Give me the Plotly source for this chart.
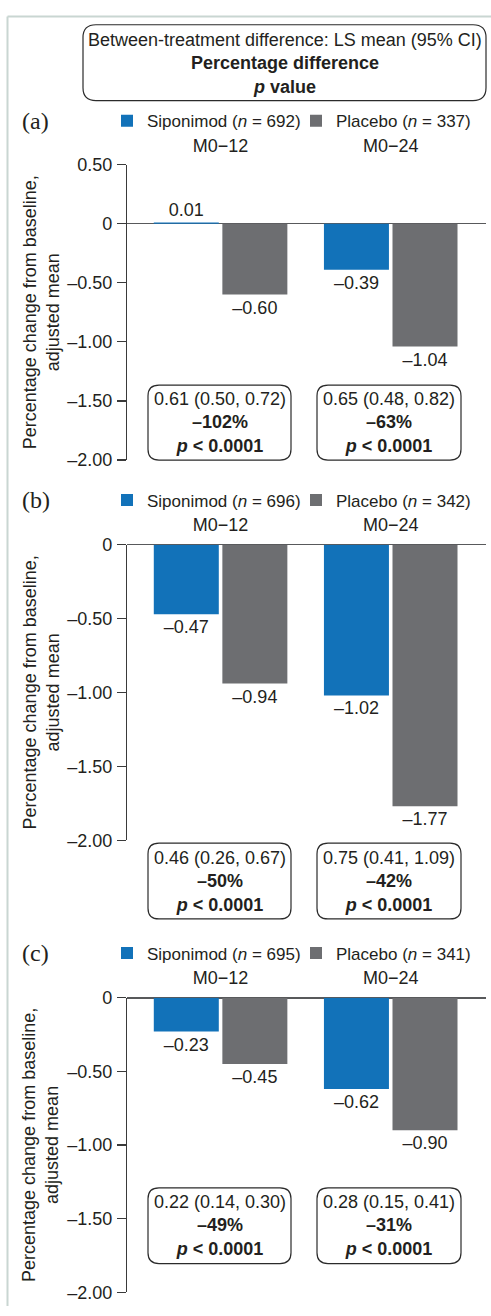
import plotly.graph_objects as go

# ---------------- data ----------------
categories = ["M0\u221212", "M0\u221224"]
siponimod_a = [0.01, -0.39]
placebo_a = [-0.60, -1.04]
siponimod_b = [-0.47, -1.02]
placebo_b = [-0.94, -1.77]
siponimod_c = [-0.23, -0.62]
placebo_c = [-0.45, -0.90]
n_siponimod = [692, 696, 695]
n_placebo = [337, 342, 341]
ls_mean_ci = [["0.61 (0.50, 0.72)", "0.65 (0.48, 0.82)"],
              ["0.46 (0.26, 0.67)", "0.75 (0.41, 1.09)"],
              ["0.22 (0.14, 0.30)", "0.28 (0.15, 0.41)"]]
pct_diff = [["\u2013102%", "\u201363%"],
            ["\u201350%", "\u201342%"],
            ["\u201349%", "\u201331%"]]
p_values = [["&lt; 0.0001", "&lt; 0.0001"]] * 3
panel_labels = ["(a)", "(b)", "(c)"]
y_ticks_a = [0.5, 0, -0.5, -1.0, -1.5, -2.0]
y_ticks_bc = [0, -0.5, -1.0, -1.5, -2.0]

# ---------------- style ----------------
W, H = 491, 1316
BLUE = "#1272b9"
GREY = "#6d6e71"
TXT = "#231f20"
FONT = "Liberation Sans, Arial, Helvetica, sans-serif"
FS = 18
LEG_FS = 17


def px(x):
    return x / W


def py(y):
    return 1 - y / H


def fmt(v):
    if v >= 0:
        return "%.2f" % v if v != 0 else "0"
    return "\u2013%.2f" % abs(v)


panels = [
    dict(sip=siponimod_a, pla=placebo_a, top=157, bot=457, leg=113,
         rng=[-2.0, 0.5], ticks=y_ticks_a, box=(381, 457), stand=8),
    dict(sip=siponimod_b, pla=placebo_b, top=543, bot=843, leg=498,
         rng=[-2.0, 0.0], ticks=y_ticks_bc, box=(846, 923), stand=9),
    dict(sip=siponimod_c, pla=placebo_c, top=1003, bot=1302, leg=958,
         rng=[-2.0, 0.0], ticks=y_ticks_bc, box=(1196, 1273), stand=9),
]

fig = go.Figure()
shapes = []
annotations = []
layout_extra = {}


def rounded_rect(x0, y0, x1, y1, r):
    rx, ry = r / W, r / H
    X0, X1 = px(x0), px(x1)
    Y0, Y1 = py(y0), py(y1)
    return (f"M {X0+rx},{Y0} L {X1-rx},{Y0} Q {X1},{Y0} {X1},{Y0-ry} "
            f"L {X1},{Y1+ry} Q {X1},{Y1} {X1-rx},{Y1} "
            f"L {X0+rx},{Y1} Q {X0},{Y1} {X0},{Y1+ry} "
            f"L {X0},{Y0-ry} Q {X0},{Y0} {X0+rx},{Y0} Z")


def legend_box(xpix, ypix):
    return dict(x=px(xpix), xanchor="left", y=py(ypix), yanchor="middle",
                orientation="h", font=dict(size=LEG_FS, color=TXT, family=FONT),
                bgcolor="rgba(0,0,0,0)", itemwidth=30, borderwidth=0,
                itemclick=False, itemdoubleclick=False)


for i, p in enumerate(panels):
    k = "" if i == 0 else str(i + 1)
    xa, ya = "x" + k, "y" + k
    leg_s = "legend" + ("" if i == 0 else str(2 * i + 1))
    leg_p = "legend" + str(2 * i + 2)
    fig.add_trace(go.Bar(
        x=categories, y=p["sip"], name=f"Siponimod (<i>n</i> = {n_siponimod[i]})",
        marker=dict(color=BLUE, line=dict(width=0)),
        text=[fmt(v) for v in p["sip"]], textposition="outside",
        textfont=dict(size=FS, color=TXT, family=FONT), cliponaxis=False,
        constraintext="none", xaxis=xa, yaxis=ya, legend=leg_s, hoverinfo="skip"))
    fig.add_trace(go.Bar(
        x=categories, y=p["pla"], name=f"Placebo (<i>n</i> = {n_placebo[i]})",
        marker=dict(color=GREY, line=dict(width=0)),
        text=[fmt(v) for v in p["pla"]], textposition="outside",
        textfont=dict(size=FS, color=TXT, family=FONT), cliponaxis=False,
        constraintext="none", xaxis=xa, yaxis=ya, legend=leg_p, hoverinfo="skip"))

    layout_extra["xaxis" + k] = dict(
        domain=[px(127), px(486)], anchor=ya, type="category",
        categoryorder="array", categoryarray=categories,
        range=[-0.55, 1.56], side="top", showline=False, ticks="",
        ticklabelstandoff=p["stand"],
        showgrid=False, zeroline=False, fixedrange=True,
        tickfont=dict(size=FS, color=TXT, family=FONT))
    layout_extra["yaxis" + k] = dict(
        domain=[py(p["bot"]), py(p["top"])], anchor=xa, range=p["rng"],
        showline=True, linecolor="#3a3a3a", linewidth=1.2,
        ticks="outside", ticklen=9, tickcolor="#3a3a3a", tickwidth=1.2,
        tickvals=p["ticks"], ticktext=[fmt(v) for v in p["ticks"]],
        ticklabelstandoff=1,
        showgrid=False, zeroline=True, zerolinecolor="#58595b", zerolinewidth=1.5,
        tickfont=dict(size=FS, color=TXT, family=FONT), fixedrange=True)
    layout_extra[leg_s] = legend_box(107, p["leg"])
    layout_extra[leg_p] = legend_box(296, p["leg"])

    annotations.append(dict(
        text=panel_labels[i], xref="paper", yref="paper", x=px(20), y=py(p["leg"]),
        xanchor="left", yanchor="middle", showarrow=False,
        font=dict(size=24, color=TXT, family="Liberation Serif, Times New Roman, serif")))
    annotations.append(dict(
        text="Percentage change from baseline,<br>adjusted mean", xref="paper", yref="paper",
        x=px(41), y=py((p["top"] + p["bot"]) / 2), textangle=-90,
        xanchor="center", yanchor="middle", showarrow=False,
        font=dict(size=FS, color=TXT, family=FONT)))
    bt, bb = p["box"]
    for j, (bx0, bx1) in enumerate([(148, 291), (317, 461)]):
        shapes.append(dict(type="path", xref="paper", yref="paper",
                           path=rounded_rect(bx0, bt, bx1, bb, 11),
                           line=dict(color="#2b2b2b", width=1.2), fillcolor="white"))
        annotations.append(dict(
            text=(f"{ls_mean_ci[i][j]}<br><b>{pct_diff[i][j]}</b><br>"
                  f"<b><i>p</i> {p_values[i][j]}</b>"),
            xref="paper", yref="paper", x=px((bx0 + bx1) / 2), y=py((bt + bb) / 2),
            xanchor="center", yanchor="middle", showarrow=False, align="center",
            font=dict(size=FS, color=TXT, family=FONT)))

shapes.append(dict(type="path", xref="paper", yref="paper",
                   path=rounded_rect(83, 15, 486, 92, 13),
                   line=dict(color="#2b2b2b", width=1.2), fillcolor="white"))
annotations.append(dict(
    text="Between-treatment difference: LS mean (95% CI)<br><b>Percentage difference</b><br><b><i>p</i> value</b>",
    xref="paper", yref="paper", x=px(285), y=py(54), xanchor="center", yanchor="middle",
    showarrow=False, align="center", font=dict(size=FS, color=TXT, family=FONT)))

shapes.append(dict(type="line", xref="paper", yref="paper", x0=px(7.5), x1=px(7.5),
                   y0=py(6.5), y1=0, line=dict(color="#c9d6d2", width=2)))
shapes.append(dict(type="line", xref="paper", yref="paper", x0=px(7.5), x1=1,
                   y0=py(6.5), y1=py(6.5), line=dict(color="#c9d6d2", width=2)))

fig.update_layout(
    width=W, height=H, margin=dict(l=0, r=0, t=0, b=0),
    paper_bgcolor="white", plot_bgcolor="white",
    barmode="group", bargap=0.194, bargroupgap=0.052,
    font=dict(family=FONT, size=FS, color=TXT),
    shapes=shapes, annotations=annotations, showlegend=True,
    **layout_extra)

fig.write_html("out.html", config={"displayModeBar": False, "staticPlot": True},
               post_script="document.body.style.margin='0';document.body.style.overflow='hidden';")
